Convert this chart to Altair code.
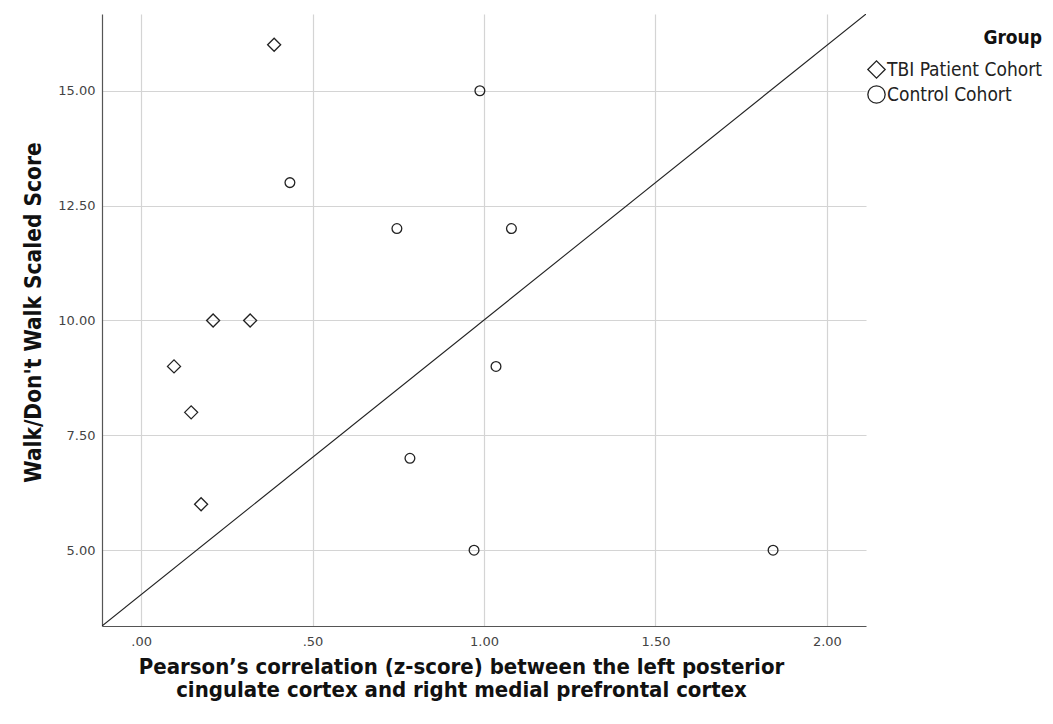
import altair as alt
import pandas as pd

# ---- data ----
tbi_x = [0.388, 0.210, 0.318, 0.096, 0.146, 0.175]
tbi_y = [16, 10, 10, 9, 8, 6]
ctrl_x = [0.988, 0.434, 0.746, 1.080, 1.035, 0.784, 0.971, 1.843]
ctrl_y = [15, 13, 12, 12, 9, 7, 5, 5]
groups = ["TBI Patient Cohort", "Control Cohort"]

x_domain = [-0.114, 2.114]
y_domain = [3.35, 16.67]
# reference line (corner to corner of the plot frame)
ref_x = x_domain
ref_y = y_domain

x_ticks = [0, 0.5, 1.0, 1.5, 2.0]
y_ticks = [5, 7.5, 10, 12.5, 15]

pts = pd.DataFrame({
    "x": tbi_x + ctrl_x,
    "y": tbi_y + ctrl_y,
    "group": [groups[0]] * len(tbi_x) + [groups[1]] * len(ctrl_x),
})
ref = pd.DataFrame({"x": ref_x, "y": ref_y})

label_expr = "datum.value < 1 ? substring(format(datum.value, '.2f'), 1) : format(datum.value, '.2f')"

x_enc = alt.X(
    "x:Q",
    scale=alt.Scale(domain=x_domain, nice=False, zero=False),
    axis=alt.Axis(
        values=x_ticks, labelExpr=label_expr, labelPadding=9,
        title=["Pearson\u2019s correlation (z-score) between the left posterior",
               "cingulate cortex and right medial prefrontal cortex"],
        titlePadding=8, titleLineHeight=23, titleX=359, titleFontSize=22,
    ),
)
y_enc = alt.Y(
    "y:Q",
    scale=alt.Scale(domain=y_domain, nice=False, zero=False),
    axis=alt.Axis(
        values=y_ticks, labelExpr="format(datum.value, '.2f')", labelPadding=7,
        title="Walk/Don't Walk Scaled Score",
        titlePadding=12, titleFontSize=22.5, titleY=298,
    ),
)

shape_enc = alt.Shape(
    "group:N",
    scale=alt.Scale(domain=groups, range=["diamond", "circle"]),
    legend=alt.Legend(
        title="Group", orient="none", legendX=765, legendY=15,
        symbolSize=300, symbolStrokeColor="#222222", symbolStrokeWidth=1.3,
        symbolFillColor="white",
        titleFontSize=19, titleFont="DejaVu Sans Condensed", titleFontWeight="bold",
        titleColor="#111111", titleAnchor="end", titlePadding=12,
        labelFontSize=19, labelFont="DejaVu Sans Condensed", labelColor="#222222",
        labelOffset=1, rowPadding=2,
    ),
)

line = alt.Chart(ref).mark_line(color="#222222", strokeWidth=1.1, clip=True).encode(
    x=x_enc, y=y_enc
)

pts_tbi = alt.Chart(pts).transform_filter(
    alt.datum.group == groups[0]
).mark_point(
    filled=False, color="#222222", strokeWidth=1.3, opacity=1, size=170
).encode(x="x:Q", y="y:Q", shape=shape_enc)

pts_ctrl = alt.Chart(pts).transform_filter(
    alt.datum.group == groups[1]
).mark_point(
    filled=False, color="#222222", strokeWidth=1.3, opacity=1, size=95
).encode(x="x:Q", y="y:Q", shape=shape_enc)

chart = alt.layer(line, pts_tbi, pts_ctrl).properties(
    width=764,
    height=612,
    autosize=alt.AutoSizeParams(type="none"),
    padding={"left": 94, "top": 6, "right": 179, "bottom": 90},
).configure_view(
    stroke=None
).configure_axis(
    grid=True, gridColor="#d4d4d4", gridWidth=1.2,
    domainColor="#555555", domainWidth=1.2,
    ticks=False,
    labelFont="DejaVu Sans", labelFontSize=13, labelColor="#444444",
    titleFont="DejaVu Sans Condensed", titleFontWeight="bold",
    titleColor="#111111",
)

chart.save("out.html", embed_options={"renderer": "svg", "actions": False})
